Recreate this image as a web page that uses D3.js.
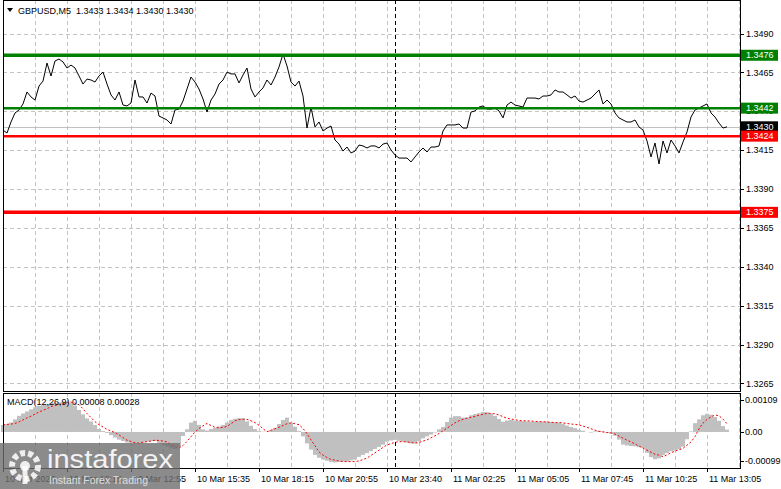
<!DOCTYPE html>
<html><head><meta charset="utf-8">
<script src="https://cdn.jsdelivr.net/npm/d3@7"></script>
<style>
body{margin:0;background:#fff}
svg{display:block}
text{font-family:"Liberation Sans",Arial,sans-serif}
</style>
</head><body><svg id="c" width="781" height="489"></svg>
<script>
// ---------------- DATA ----------------
const symbolTitle = "GBPUSD,M5";
const ohlcText = ["1.3433", "1.3434", "1.3430", "1.3430"];
const macdTitle = "MACD(12,26,9)";
const macdLast = "0.00008";
const signalLast = "0.00028";

// close prices, one every 2 bars (10 minutes)
const closes = [
1.34279,1.34260,1.34331,1.34389,1.34408,1.34447,1.34524,1.34492,1.34472,1.34562,
1.34594,1.34710,1.34627,1.34723,1.34736,1.34717,1.34678,1.34697,1.34678,1.34627,
1.34575,1.34607,1.34601,1.34588,1.34627,1.34652,1.34575,1.34505,1.34472,1.34524,
1.34440,1.34434,1.34453,1.34601,1.34492,1.34492,1.34453,1.34517,1.34498,1.34369,
1.34357,1.34344,1.34318,1.34408,1.34414,1.34466,1.34543,1.34620,1.34588,1.34543,
1.34479,1.34395,1.34472,1.34511,1.34575,1.34601,1.34652,1.34640,1.34640,1.34582,
1.34633,1.34678,1.34543,1.34492,1.34524,1.34550,1.34601,1.34569,1.34620,1.34685,
1.34768,1.34691,1.34588,1.34562,1.34594,1.34498,1.34292,1.34427,1.34299,1.34331,
1.34273,1.34292,1.34305,1.34215,1.34189,1.34144,1.34170,1.34132,1.34144,1.34183,
1.34177,1.34164,1.34177,1.34177,1.34164,1.34189,1.34196,1.34151,1.34119,1.34099,
1.34099,1.34099,1.34074,1.34106,1.34138,1.34164,1.34138,1.34170,1.34170,1.34177,
1.34273,1.34312,1.34312,1.34312,1.34318,1.34292,1.34292,1.34395,1.34402,1.34427,
1.34434,1.34414,1.34414,1.34421,1.34402,1.34357,1.34440,1.34459,1.34440,1.34434,
1.34427,1.34485,1.34485,1.34485,1.34479,1.34498,1.34498,1.34505,1.34537,1.34524,
1.34524,1.34505,1.34485,1.34498,1.34466,1.34459,1.34472,1.34485,1.34511,1.34537,
1.34447,1.34472,1.34447,1.34389,1.34357,1.34344,1.34331,1.34331,1.34344,1.34299,
1.34279,1.34209,1.34106,1.34196,1.34061,1.34209,1.34132,1.34215,1.34177,1.34132,
1.34202,1.34267,1.34363,1.34408,1.34421,1.34434,1.34447,1.34389,1.34363,1.34324,
1.34292,1.34300
];

const macdMain = [
0.00024,0.00027,0.00032,0.00043,0.00055,0.00063,0.00070,0.00077,0.00084,0.00089,
0.00092,0.00095,0.00098,0.00099,0.00101,0.00103,0.00102,0.00098,0.00090,0.00075,
0.00060,0.00046,0.00036,0.00024,0.00010,0.00003,-0.00003,-0.00011,-0.00019,-0.00026,
-0.00031,-0.00036,-0.00038,-0.00039,-0.00039,-0.00036,-0.00033,-0.00031,-0.00031,-0.00038,
-0.00044,-0.00050,-0.00056,-0.00058,-0.00051,-0.00014,0.00009,0.00032,0.00038,0.00024,
0.00009,0.00005,0.00010,0.00014,0.00019,0.00024,0.00032,0.00041,0.00045,0.00047,
0.00047,0.00036,0.00021,0.00010,0.00003,0.00001,0.00001,0.00007,0.00014,0.00027,
0.00041,0.00049,0.00032,0.00018,0.00003,-0.00015,-0.00039,-0.00060,-0.00078,-0.00088,
-0.00094,-0.00098,-0.00102,-0.00104,-0.00102,-0.00101,-0.00101,-0.00097,-0.00094,-0.00085,
-0.00078,-0.00072,-0.00065,-0.00058,-0.00051,-0.00043,-0.00033,-0.00029,-0.00027,-0.00030,
-0.00033,-0.00036,-0.00039,-0.00039,-0.00032,-0.00022,-0.00015,-0.00009,-0.00002,0.00009,
0.00017,0.00034,0.00049,0.00054,0.00054,0.00049,0.00050,0.00057,0.00061,0.00064,
0.00068,0.00067,0.00062,0.00055,0.00044,0.00035,0.00039,0.00041,0.00039,0.00038,
0.00037,0.00036,0.00035,0.00035,0.00035,0.00035,0.00035,0.00034,0.00033,0.00032,
0.00028,0.00022,0.00017,0.00013,0.00008,0.00004,0.00000,-0.00002,0.00002,0.00004,
0.00002,-0.00002,-0.00006,-0.00013,-0.00026,-0.00043,-0.00046,-0.00048,-0.00049,-0.00052,
-0.00055,-0.00071,-0.00086,-0.00093,-0.00090,-0.00079,-0.00072,-0.00066,-0.00063,-0.00059,
-0.00050,-0.00025,0.00002,0.00030,0.00043,0.00057,0.00062,0.00059,0.00051,0.00038,
0.00020,0.00008
];

const macdSignal = [
0.00024,0.00026,0.00027,0.00029,0.00034,0.00041,0.00048,0.00054,0.00061,0.00068,
0.00074,0.00079,0.00087,0.00090,0.00094,0.00097,0.00101,0.00102,0.00098,0.00093,
0.00079,0.00063,0.00049,0.00035,0.00025,0.00017,0.00009,0.00003,-0.00002,-0.00010,
-0.00019,-0.00028,-0.00032,-0.00037,-0.00038,-0.00035,-0.00033,-0.00031,-0.00028,-0.00029,
-0.00031,-0.00034,-0.00044,-0.00051,-0.00055,-0.00046,-0.00032,-0.00016,0.00000,0.00012,
0.00021,0.00029,0.00022,0.00016,0.00014,0.00016,0.00019,0.00028,0.00038,0.00042,
0.00043,0.00043,0.00038,0.00032,0.00023,0.00011,0.00001,0.00006,0.00011,0.00016,
0.00022,0.00028,0.00031,0.00028,0.00025,0.00012,-0.00006,-0.00027,-0.00047,-0.00068,
-0.00079,-0.00087,-0.00094,-0.00096,-0.00099,-0.00101,-0.00101,-0.00101,-0.00101,-0.00099,
-0.00094,-0.00089,-0.00080,-0.00071,-0.00062,-0.00053,-0.00044,-0.00040,-0.00035,-0.00033,
-0.00033,-0.00034,-0.00036,-0.00038,-0.00036,-0.00031,-0.00027,-0.00020,-0.00013,-0.00005,
0.00004,0.00013,0.00022,0.00031,0.00038,0.00043,0.00047,0.00050,0.00053,0.00057,
0.00060,0.00064,0.00063,0.00062,0.00058,0.00052,0.00047,0.00044,0.00042,0.00039,
0.00038,0.00038,0.00037,0.00036,0.00035,0.00035,0.00034,0.00033,0.00032,0.00032,
0.00031,0.00029,0.00027,0.00026,0.00024,0.00020,0.00016,0.00011,0.00006,0.00002,
0.00000,-0.00002,-0.00003,-0.00007,-0.00014,-0.00021,-0.00028,-0.00034,-0.00041,-0.00048,
-0.00055,-0.00062,-0.00069,-0.00076,-0.00079,-0.00084,-0.00078,-0.00071,-0.00065,-0.00061,
-0.00056,-0.00045,-0.00034,-0.00016,0.00011,0.00030,0.00043,0.00051,0.00058,0.00055,
0.00044,0.00028
];

const timeLabels = ["10 Mar 2026","10 Mar 10:15","10 Mar 12:55","10 Mar 15:35","10 Mar 18:15","10 Mar 20:55",
  "10 Mar 23:40","11 Mar 02:25","11 Mar 05:05","11 Mar 07:45","11 Mar 10:25","11 Mar 13:05"];
const barsPerLabel = 32;
const barsPerGrid = 16;
const barsPerPoint = 2;
const daySeparatorBar = 196;   // 11 Mar 00:00

const priceTicks = [1.3490, 1.3465, 1.3440, 1.3415, 1.3390, 1.3365, 1.3340, 1.3315, 1.3290, 1.3265];
const resistanceLevels = [1.3476, 1.3442];
const supportLevels = [1.3424, 1.3375];
const bidPrice = 1.3430;
const macdTicks = [0.00109, 0, -0.00099];
const macdTickLabels = ["0.00109", "0.00", "-0.00099"];

// ---------------- LAYOUT ----------------
const svg = d3.select("#c");
const L = 3, R = 740, mainTop = 0, mainBottom = 391, macdTop = 393, macdBottom = 468;
const FS = 9;

const x = d3.scaleLinear().domain([0, 368.5]).range([L, R]);
const y = d3.scaleLinear().domain([1.3265, 1.3490]).range([383.4, 33.5]);
const ym = d3.scaleLinear().domain([-0.00099, 0.00109]).range([461, 400]);

const GRID = "#c4c4c4";
const dash = "4,3";

// grids main
const gGrid = svg.append("g");
priceTicks.forEach(t => {
  const yy = Math.round(y(t)) + 0.5;
  gGrid.append("line").attr("x1", L).attr("x2", R).attr("y1", yy).attr("y2", yy)
    .attr("stroke", GRID).attr("stroke-dasharray", dash);
});
for (let b = barsPerGrid; x(b) < R; b += barsPerGrid) {
  const xx = Math.round(x(b)) + 0.5;
  [[mainTop, mainBottom], [macdTop, macdBottom]].forEach(([a, z]) => {
    gGrid.append("line").attr("x1", xx).attr("x2", xx).attr("y1", a).attr("y2", z)
      .attr("stroke", GRID).attr("stroke-dasharray", dash);
  });
}
// day separator
{
  const xx = Math.round(x(daySeparatorBar)) + 0.5;
  [[mainTop, mainBottom], [macdTop, macdBottom]].forEach(([a, z]) => {
    svg.append("line").attr("x1", xx).attr("x2", xx).attr("y1", a).attr("y2", z)
      .attr("stroke", "#000").attr("stroke-dasharray", dash);
  });
}

// bid line
svg.append("line").attr("x1", L).attr("x2", R)
  .attr("y1", Math.round(y(bidPrice)) + 0.5).attr("y2", Math.round(y(bidPrice)) + 0.5)
  .attr("stroke", "#c0c0c0");

// price line
const line = d3.line().x((d, k) => x(k * barsPerPoint)).y(d => y(d));
svg.append("path").datum(closes).attr("d", line).attr("fill", "none")
  .attr("stroke", "#000").attr("stroke-width", 1);

// levels
const GREEN = "#008000", RED = "#ff0000";
const levelWidth = [3.5, 2.5];
resistanceLevels.forEach((v, i) => {
  svg.append("line").attr("x1", L).attr("x2", R).attr("y1", y(v)).attr("y2", y(v))
    .attr("stroke", GREEN).attr("stroke-width", levelWidth[i]);
});
supportLevels.forEach((v, i) => {
  svg.append("line").attr("x1", L).attr("x2", R).attr("y1", y(v)).attr("y2", y(v))
    .attr("stroke", RED).attr("stroke-width", levelWidth[1 - i]);
});

// MACD histogram
svg.append("g").selectAll("rect").data(macdMain).join("rect")
  .attr("x", (d, k) => x(k * barsPerPoint) - 2)
  .attr("width", 4)
  .attr("y", d => Math.min(ym(d), ym(0)))
  .attr("height", d => Math.abs(ym(d) - ym(0)))
  .attr("fill", "#c0c0c0");
// signal
const sline = d3.line().x((d, k) => x(k * barsPerPoint)).y(d => ym(d));
svg.append("path").datum(macdSignal).attr("d", sline).attr("fill", "none")
  .attr("stroke", RED).attr("stroke-width", 1).attr("stroke-dasharray", "2,2");

// borders
svg.append("rect").attr("x", L + 0.5).attr("y", mainTop + 0.5).attr("width", R - L).attr("height", mainBottom - mainTop)
  .attr("fill", "none").attr("stroke", "#000");
svg.append("rect").attr("x", L + 0.5).attr("y", macdTop + 0.5).attr("width", R - L).attr("height", macdBottom - macdTop)
  .attr("fill", "none").attr("stroke", "#000");

// right price axis
priceTicks.forEach(t => {
  const yy = Math.round(y(t)) + 0.5;
  svg.append("line").attr("x1", R).attr("x2", R + 4).attr("y1", yy).attr("y2", yy).attr("stroke", "#000");
  svg.append("text").attr("x", R + 6).attr("y", y(t)).attr("dy", "0.35em")
    .attr("font-size", FS).text(d3.format(".4f")(t));
});
function tag(v, fill) {
  const yy = y(v);
  svg.append("rect").attr("x", R + 1).attr("y", yy - 5.5).attr("width", 37).attr("height", 11).attr("fill", fill);
  svg.append("text").attr("x", R + 6).attr("y", yy).attr("dy", "0.35em").attr("fill", "#fff")
    .attr("font-size", FS).text(d3.format(".4f")(v));
}
resistanceLevels.forEach(v => tag(v, GREEN));
tag(bidPrice, "#000");
supportLevels.forEach(v => tag(v, RED));

// MACD axis
macdTicks.forEach((t, i) => {
  const yy = Math.round(ym(t)) + 0.5;
  svg.append("line").attr("x1", R).attr("x2", R + 4).attr("y1", yy).attr("y2", yy).attr("stroke", "#000");
  svg.append("text").attr("x", R + 5).attr("y", ym(t)).attr("dy", "0.35em")
    .attr("font-size", FS).text(macdTickLabels[i]);
});

// time axis
timeLabels.forEach((lab, i) => {
  const xx = Math.round(x(i * barsPerLabel)) + 0.5;
  svg.append("line").attr("x1", xx).attr("x2", xx).attr("y1", macdBottom).attr("y2", macdBottom + 4).attr("stroke", "#000");
  svg.append("text").attr("x", xx + 1.5).attr("y", 482).attr("font-size", FS).text(lab);
});

// titles
svg.append("path").attr("d", "M7,8 L13,8 L10,12 Z").attr("fill", "#000");
svg.append("text").attr("x", 18).attr("y", 13.5).attr("font-size", FS)
  .text(symbolTitle + "  " + ohlcText.join(" ")).attr("xml:space", "preserve");
svg.append("text").attr("x", 7).attr("y", 405).attr("font-size", FS)
  .text(macdTitle + " " + macdLast + " " + signalLast);

// watermark
const wm = svg.append("g");
wm.append("rect").attr("x", 0).attr("y", 443).attr("width", 180).attr("height", 46)
  .attr("fill", "#6e6e6e").attr("opacity", 0.8);
const gear = wm.append("g").attr("transform", "translate(25,466)");
gear.append("circle").attr("r", 13).attr("fill", "none").attr("stroke", "#fff").attr("stroke-width", 6)
  .attr("stroke-dasharray", "5,3").attr("opacity", 0.85);
gear.append("circle").attr("r", 5).attr("fill", "#fff").attr("opacity", 0.85);
gear.append("rect").attr("x", -2.5).attr("y", 0).attr("width", 5).attr("height", 18).attr("fill", "#fff").attr("opacity", 0.85);
wm.append("text").attr("x", 47).attr("y", 468).attr("font-size", 25)
  .attr("font-family", "'DejaVu Sans', sans-serif").attr("font-weight", 300)
  .attr("fill", "#fff").attr("opacity", 0.9).attr("textLength", 126).attr("lengthAdjust", "spacingAndGlyphs")
  .text("instaforex");
wm.append("text").attr("x", 49).attr("y", 484).attr("font-size", 11)
  .attr("fill", "#e8e8e8").attr("opacity", 0.9).attr("textLength", 99).attr("lengthAdjust", "spacingAndGlyphs")
  .text("Instant Forex Trading");
</script>
</body></html>
